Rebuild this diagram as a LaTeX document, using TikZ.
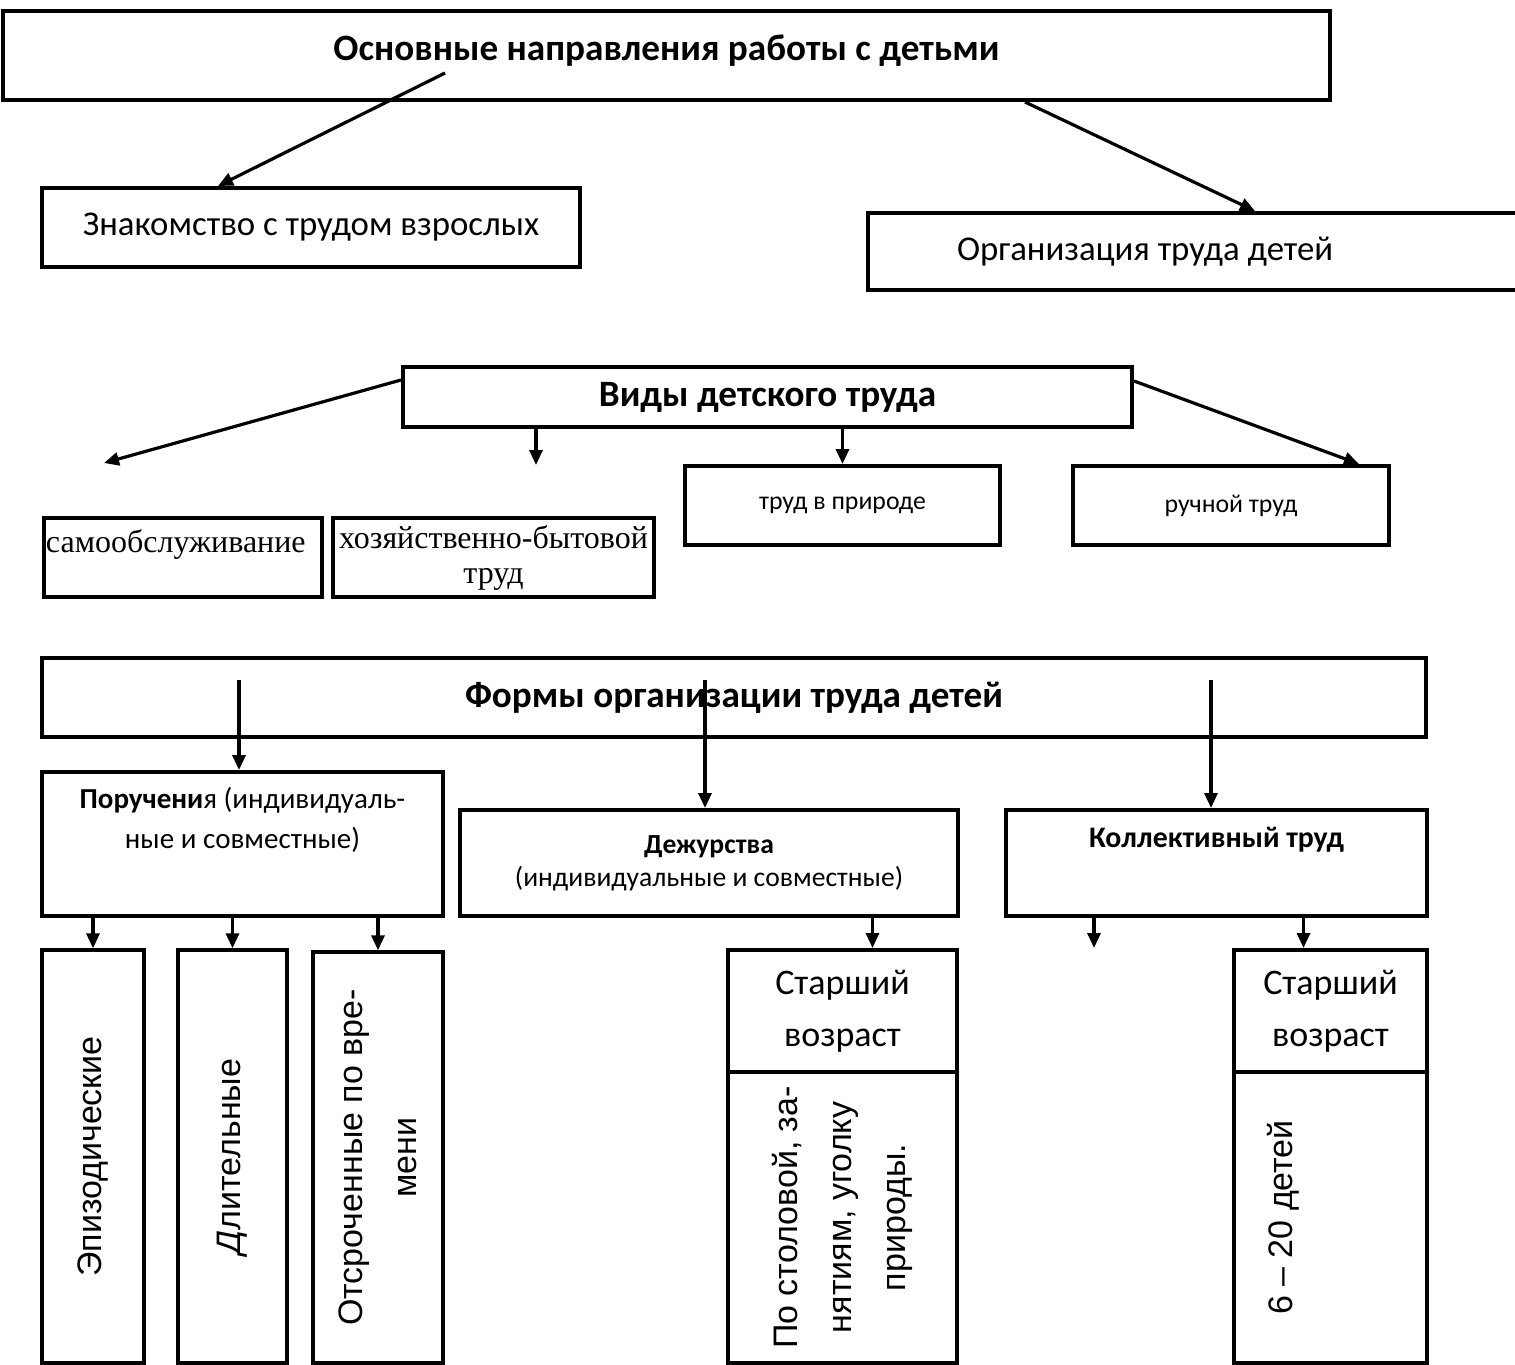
\documentclass[tikz,border=0pt]{standalone}
\usepackage{fontspec}
\setmainfont{Carlito}
\newfontfamily\timesschrift{Liberation Serif}
\newfontfamily\arialschrift{Liberation Sans}
\usepackage{tikz}
\usetikzlibrary{arrows.meta}
\tikzset{kasten/.style={draw, line width=2pt, inner sep=1pt, align=center},
         titel/.style={font=\bfseries\fontsize{18.6}{22}\selectfont},
         hochkasten/.style={kasten, rotate=90, line width=1.7pt, font=\arialschrift\fontsize{17}{27}\selectfont}}

\begin{document}
\begin{tikzpicture}[x=0.5pt, y=-0.5pt, >={Triangle[length=7.5pt,width=6.5pt]}, line width=1.6pt]
    \useasboundingbox (0,0) rectangle (1515,1365);
    % Richtungen
    \path node [kasten, titel, minimum width=663.5pt, minimum height=44.5pt, text height=12pt, text depth=7.5pt] (1) at (666.5,55.5) {Основные направления работы с детьми}
          node [kasten, minimum width=269pt, minimum height=39.5pt, font=\fontsize{17.4}{20}\selectfont] (2) at (311,227.5) {Знакомство с трудом взрослых}
          node [kasten, minimum height=38.5pt, text width=247pt, inner xsep=44.5pt, align=flush left, font=\fontsize{17.4}{20}\selectfont] (3) at (1204,251.5) {Организация труда детей};

    % Arten
    \path node [kasten, titel, minimum width=364.5pt, minimum height=30pt] (4) at (767.5,397) {Виды детского труда}
          node [kasten, minimum width=157.5pt, minimum height=39.5pt, font=\fontsize{12.9}{15}\selectfont] (5) at (842.5,505.5) {труд в природе}
          node [kasten, minimum width=158pt, minimum height=39.5pt, font=\fontsize{12.9}{15}\selectfont] (6) at (1231,505.5) {ручной труд}
          node [kasten, minimum width=139pt, minimum height=39.5pt, text width=137pt, align=flush left, text height=11pt, text depth=16.5pt, font=\timesschrift\fontsize{16}{17.5}\selectfont] (7) at (183,557.5) {самообслуживание}
          node [kasten, minimum width=160.5pt, minimum height=39.5pt, font=\timesschrift\fontsize{16}{17.5}\selectfont] (8) at (493.5,557.5) {хозяйственно-бытовой\\труд};

    % Formen
    \path node [kasten, titel, minimum width=692pt, minimum height=39.5pt] (9) at (734,697.5) {Формы организации труда детей}
          node [kasten, minimum width=200.5pt, minimum height=72pt, font=\fontsize{14.5}{20}\selectfont] (10) at (242.5,844) {\textbf{Поручени}я (индивидуаль-\\ные и совместные)\\\strut}
          node [kasten, minimum width=249pt, minimum height=53pt, font=\fontsize{13.8}{16.5}\selectfont] (11) at (709,863) {\textbf{Дежурства}\\(индивидуальные и совместные)}
          node [kasten, minimum width=210.5pt, minimum height=53pt, font=\bfseries\fontsize{14.9}{20}\selectfont] (12) at (1216.5,863) {Коллективный труд\\\strut};

    % untere Reihe
    \path node [hochkasten, minimum width=206.5pt, minimum height=51pt] (13) at (93,1156.5) {Эпизодические}
          node [hochkasten, minimum width=206.5pt, minimum height=54.5pt] (14) at (232.5,1156.5) {\textit{Д}лительные}
          node [hochkasten, minimum width=205.5pt, minimum height=65pt] (15) at (378,1157.5) {Отсроченные по вре-\\мени}
          node [kasten, minimum width=114.5pt, minimum height=61pt, font=\fontsize{18}{26}\selectfont] (16) at (842.5,1011) {Старший\\возраст}
          node [hochkasten, line width=2pt, minimum width=145.5pt, minimum height=114.5pt] (17) at (842.5,1217.5) {По столовой, за-\\нятиям, уголку\\природы.}
          node [kasten, minimum width=96.5pt, minimum height=61pt, font=\fontsize{18}{26}\selectfont] (18) at (1330.5,1011) {Старший\\возраст}
          node [hochkasten, line width=2pt, minimum width=145.5pt, minimum height=96.5pt, text height=13pt, text depth=51pt] (19) at (1330.5,1217.5) {6 – 20 детей};

    \coordinate (20) at (445,73);
    \coordinate (21) at (104,463);
    \coordinate (22) at (536,465);
    \coordinate (23) at (239,680);
    \coordinate (24) at (705,680);
    \coordinate (25) at (1211,680);
    \coordinate (26) at (1094,948);
    \coordinate (27) at ([xshift=15pt]16.north);
    \coordinate (28) at ([xshift=-13.5pt]18.north);
    \coordinate (29) at ([xshift=89pt]2.north west);
    \coordinate (30) at ([xshift=512pt]1.south west);
    \coordinate (31) at ([xshift=194.5pt]3.north west);
    \coordinate (32) at ([yshift=-7.5pt]4.north west);
    \coordinate (33) at ([yshift=-8pt]4.north east);
    \coordinate (34) at ([xshift=-16pt]6.north east);

    \path [->] (20) edge (29)
               (30) edge (31)
               (32) edge (21)
               (4.south -| 22) edge (22)
               (4.south -| 5.north) edge (5.north)
               (33) edge (34)
               (23) edge (23 |- 10.north)
               (24) edge (24 |- 11.north)
               (25) edge (25 |- 12.north)
               (10.south -| 13.east) edge (13.east)
               (10.south -| 14.east) edge (14.east)
               (10.south -| 15.east) edge (15.east)
               (11.south -| 27) edge (27)
               (12.south -| 26) edge (26)
               (12.south -| 28) edge (28);
\end{tikzpicture}
\end{document}
